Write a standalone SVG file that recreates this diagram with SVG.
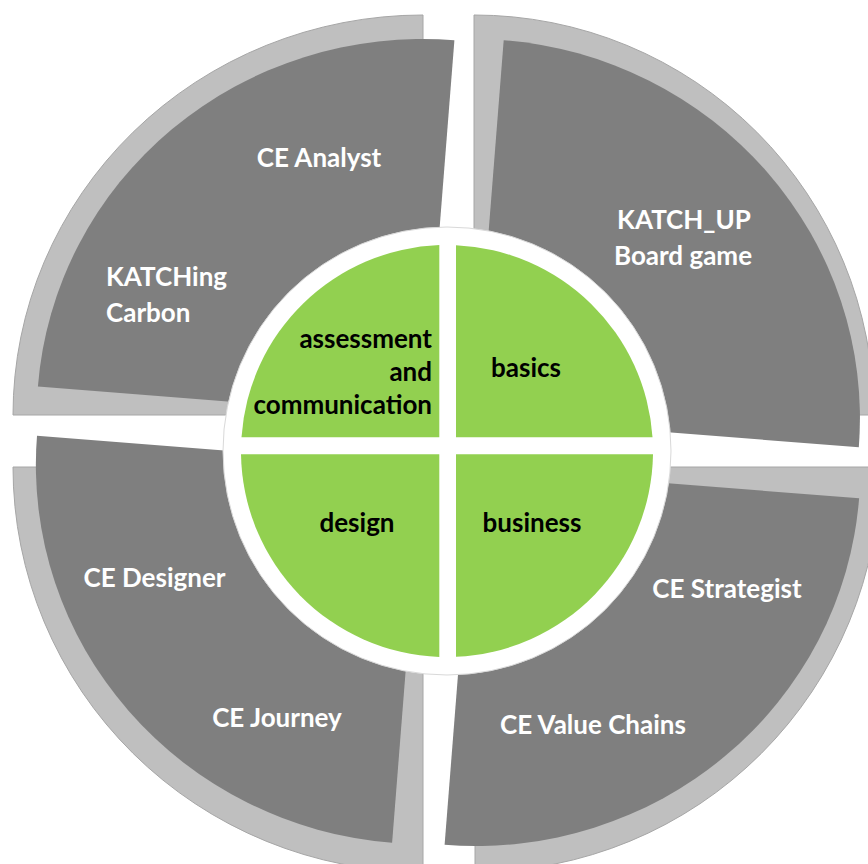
<svg xmlns="http://www.w3.org/2000/svg" width="868" height="864" viewBox="0 0 868 864">
<style>
.outer{fill:#bfbfbf;stroke:#a6a6a6;stroke-width:1}
.inner{fill:#7f7f7f}
.green{fill:#92d050}
.wl{font-family:Lato,"Liberation Sans",sans-serif;font-weight:bold;font-size:26px;fill:#ffffff}
.bl{font-family:Lato,"Liberation Sans",sans-serif;font-weight:bold;font-size:26px;fill:#000000}
</style>
<rect width="868" height="864" fill="#ffffff"/>
<g id="seg-top-left">
<path class="outer" d="M423 415 L13 415 A410 400 0 0 1 423 15 Z"/>
<path class="inner" d="M424.7 417 L37.9 386.6 A388 378 4.5 0 1 454.4 40.2 Z"/>
<text class="wl" x="319" y="167" text-anchor="middle">CE Analyst</text>
<text class="wl" x="106" y="286">KATCHing</text>
<text class="wl" x="106" y="322">Carbon</text>
</g>
<g id="seg-top-right">
<path class="outer" d="M474 415 L474 15 A400 400 0 0 1 874 415 Z"/>
<path class="inner" d="M474 417 L503.7 40.2 A386 378 4.5 0 1 858.8 447.3 Z"/>
<text class="wl" x="684" y="229" text-anchor="middle">KATCH_UP</text>
<text class="wl" x="683" y="265" text-anchor="middle">Board game</text>
</g>
<g id="seg-bottom-left">
<path class="outer" d="M423 467 L423 872 A410 405 0 0 1 13 467 Z"/>
<path class="inner" d="M421.8 466 L392.1 842.8 A386 378 4.5 0 1 37 435.7 Z"/>
<text class="wl" x="154.5" y="587" text-anchor="middle">CE Designer</text>
<text class="wl" x="277" y="727" text-anchor="middle">CE Journey</text>
</g>
<g id="seg-bottom-right">
<path class="outer" d="M475 467 L880 467 A405 405 0 0 1 475 872 Z"/>
<path class="inner" d="M474.3 468 L859.1 498.3 A386 378 4.5 0 1 444.6 844.8 Z"/>
<text class="wl" x="727" y="598" text-anchor="middle">CE Strategist</text>
<text class="wl" x="593" y="734" text-anchor="middle">CE Value Chains</text>
</g>
<circle id="hub" cx="447" cy="451" r="224" fill="#ffffff" stroke="#d9d9d9" stroke-width="1"/>
<g id="core-assessment">
<path class="green" d="M439.3 437.3 L241.5 437.3 A206 206 0 0 1 439.3 245.1 Z"/>
<text class="bl" x="432" y="348" text-anchor="end">assessment</text>
<text class="bl" x="432" y="381" text-anchor="end">and</text>
<text class="bl" x="432" y="414" text-anchor="end">communication</text>
</g>
<g id="core-basics">
<path class="green" d="M456 437.3 L456 245.2 A206 206 0 0 1 652.5 437.3 Z"/>
<text class="bl" x="526" y="377" text-anchor="middle">basics</text>
</g>
<g id="core-design">
<path class="green" d="M439.3 454.3 L439.3 656.9 A206 206 0 0 1 241 454.3 Z"/>
<text class="bl" x="357" y="532" text-anchor="middle">design</text>
</g>
<g id="core-business">
<path class="green" d="M456 454.3 L653 454.3 A206 206 0 0 1 456 656.8 Z"/>
<text class="bl" x="532" y="532" text-anchor="middle">business</text>
</g>
<g id="connectors"/>
</svg>
